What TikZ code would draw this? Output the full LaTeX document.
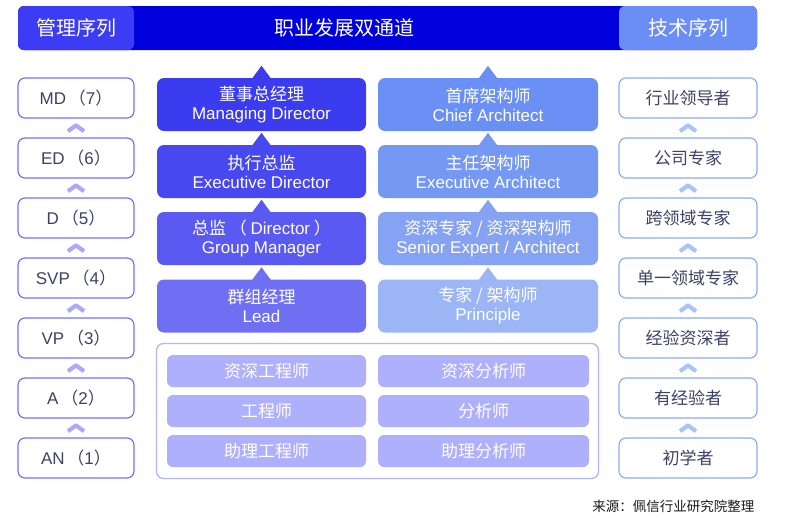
\documentclass[tikz,border=0pt]{standalone}
\usepackage{fontspec}
\setmainfont{Noto Sans CJK SC}
\newfontfamily\latinfont{Liberation Sans}
\usetikzlibrary{calc}
\definecolor{barDark}{HTML}{0000DC}
\definecolor{barLeft}{HTML}{3C3CF5}
\definecolor{barRight}{HTML}{6A8EF5}
\definecolor{sideText}{HTML}{3D4266}
\definecolor{leftEdge}{HTML}{7474F5}
\definecolor{rightEdge}{HTML}{8CACF5}
\definecolor{leftChev}{HTML}{AAAAF8}
\definecolor{rightChev}{HTML}{A9C4F8}
\definecolor{Lone}{HTML}{3B3BF0}
\definecolor{Ltwo}{HTML}{4848F0}
\definecolor{Lthree}{HTML}{5A5AF2}
\definecolor{Lfour}{HTML}{6F6FF3}
\definecolor{Rone}{HTML}{6A8FF5}
\definecolor{Rtwo}{HTML}{7598F2}
\definecolor{Rthree}{HTML}{85A3F2}
\definecolor{Rfour}{HTML}{9BB5F5}
\definecolor{innerFill}{HTML}{AFB0FC}
\definecolor{frameEdge}{HTML}{B4B4FA}
\tikzset{
  headbox/.style={rectangle, rounded corners=6pt, minimum height=44pt, text=white, font=\fontsize{20}{22}\selectfont, inner sep=0pt},
  sidebox/.style={rectangle, rounded corners=7pt, draw, line width=1.2pt, fill=white, minimum height=40pt, text=sideText, font=\fontsize{17}{19}\selectfont, inner sep=0pt},
  leftside/.style={sidebox, draw=leftEdge, minimum width=116pt},
  rightside/.style={sidebox, draw=rightEdge, minimum width=138pt},
  rankbox/.style={rectangle, rounded corners=7pt, minimum height=53pt, text=white, align=center, inner sep=0pt, font=\fontsize{17}{19}\selectfont},
  leftrank/.style={rankbox, minimum width=209pt},
  rightrank/.style={rankbox, minimum width=220pt},
  juniorbox/.style={rectangle, rounded corners=6pt, fill=innerFill, minimum height=32pt, text=white, inner sep=0pt, font=\fontsize{17}{19}\selectfont},
  chevron/.style={line width=4.2pt, line cap=butt, line join=round}
}
\newcommand{\entext}[1]{{\latinfont\fontsize{17}{18}\selectfont #1}}
\newcommand{\ranktri}[2]{\fill[#2] ($(#1.north)+(-9.5,0.8)$) -- ($(#1.north)+(0,-12)$) -- ($(#1.north)+(9.5,0.8)$) -- cycle;}
\newcommand{\chevup}[3]{\draw[chevron, #3] ($($(#1.south)!0.5!(#2.north)$)+(-8,3.2)$) -- ($($(#1.south)!0.5!(#2.north)$)+(0,-2.6)$) -- ($($(#1.south)!0.5!(#2.north)$)+(8,3.2)$);}
\begin{document}
\begin{tikzpicture}[x=1pt, y=-1pt]
\useasboundingbox (0,0) rectangle (800,517);
\fill[white] (0,0) rectangle (800,517);
% header bar
\fill[barDark, rounded corners=6pt] (18,6) rectangle (757,50);
\node[headbox, fill=barLeft, minimum width=116pt] (mgmt) at (76,28) {管理序列};
\node[headbox, fill=barRight, minimum width=138pt] (tech) at (688,28) {技术序列};
\node[text=white, font=\fontsize{20}{22}\selectfont] (title) at (344,28) {职业发展双通道};
% left side
\node[leftside] (md) at (76,98) {\latinfont MD\,{\rmfamily（}7{\rmfamily）}};
\node[leftside] (ed) at (76,158) {\latinfont ED\,{\rmfamily（}6{\rmfamily）}};
\node[leftside] (d) at (76,218) {\latinfont D\,{\rmfamily（}5{\rmfamily）}};
\node[leftside] (svp) at (76,278) {\latinfont SVP\,{\rmfamily（}4{\rmfamily）}};
\node[leftside] (vp) at (76,338) {\latinfont VP\,{\rmfamily（}3{\rmfamily）}};
\node[leftside] (a) at (76,398) {\latinfont A\,{\rmfamily（}2{\rmfamily）}};
\node[leftside] (an) at (76,458) {\latinfont AN\,{\rmfamily（}1{\rmfamily）}};
\chevup{md}{ed}{leftChev}
\chevup{ed}{d}{leftChev}
\chevup{d}{svp}{leftChev}
\chevup{svp}{vp}{leftChev}
\chevup{vp}{a}{leftChev}
\chevup{a}{an}{leftChev}
% right side
\node[rightside] (t7) at (688,98) {行业领导者};
\node[rightside] (t6) at (688,158) {公司专家};
\node[rightside] (t5) at (688,218) {跨领域专家};
\node[rightside] (t4) at (688,278) {单一领域专家};
\node[rightside] (t3) at (688,338) {经验资深者};
\node[rightside] (t2) at (688,398) {有经验者};
\node[rightside] (t1) at (688,458) {初学者};
\chevup{t7}{t6}{rightChev}
\chevup{t6}{t5}{rightChev}
\chevup{t5}{t4}{rightChev}
\chevup{t4}{t3}{rightChev}
\chevup{t3}{t2}{rightChev}
\chevup{t2}{t1}{rightChev}
% management ranks
\node[leftrank, fill=Lone] (l4) at (261.5,104.5) {董事总经理\\\entext{Managing Director}};
\node[leftrank, fill=Ltwo] (l3) at (261.5,171.5) {执行总监\\\entext{Executive Director}};
\node[leftrank, fill=Lthree] (l2) at (261.5,238.5) {总监 （ {\latinfont Director} ）\\\entext{Group Manager}};
\node[leftrank, fill=Lfour] (l1) at (261.5,306) {群组经理\\\entext{Lead}};
\ranktri{l4}{Lone}
\ranktri{l3}{Ltwo}
\ranktri{l2}{Lthree}
\ranktri{l1}{Lfour}
% technical ranks
\node[rightrank, fill=Rone] (r4) at (488,104.5) {首席架构师\\\entext{Chief Architect}};
\node[rightrank, fill=Rtwo] (r3) at (488,171.5) {主任架构师\\\entext{Executive Architect}};
\node[rightrank, fill=Rthree] (r2) at (488,238.5) {资深专家 / 资深架构师\\\entext{Senior Expert / Architect}};
\node[rightrank, fill=Rfour] (r1) at (488,306) {专家 / 架构师\\\entext{Principle}};
\ranktri{r4}{Rone}
\ranktri{r3}{Rtwo}
\ranktri{r2}{Rthree}
\ranktri{r1}{Rfour}
% junior frame
\draw[frameEdge, line width=1.3pt, rounded corners=7pt, fill=white] (156.5,343.5) rectangle (598.5,478.5);
\node[juniorbox, minimum width=199pt] (je3) at (266.5,371) {资深工程师};
\node[juniorbox, minimum width=199pt] (je2) at (266.5,411) {工程师};
\node[juniorbox, minimum width=199pt] (je1) at (266.5,451) {助理工程师};
\node[juniorbox, minimum width=211pt] (ja3) at (483.5,371) {资深分析师};
\node[juniorbox, minimum width=211pt] (ja2) at (483.5,411) {分析师};
\node[juniorbox, minimum width=211pt] (ja1) at (483.5,451) {助理分析师};
% source
\node[anchor=east, text=black!90, font=\fontsize{13.5}{15}\selectfont] (src) at (758,506) {来源：佩信行业研究院整理};
\end{tikzpicture}
\end{document}
